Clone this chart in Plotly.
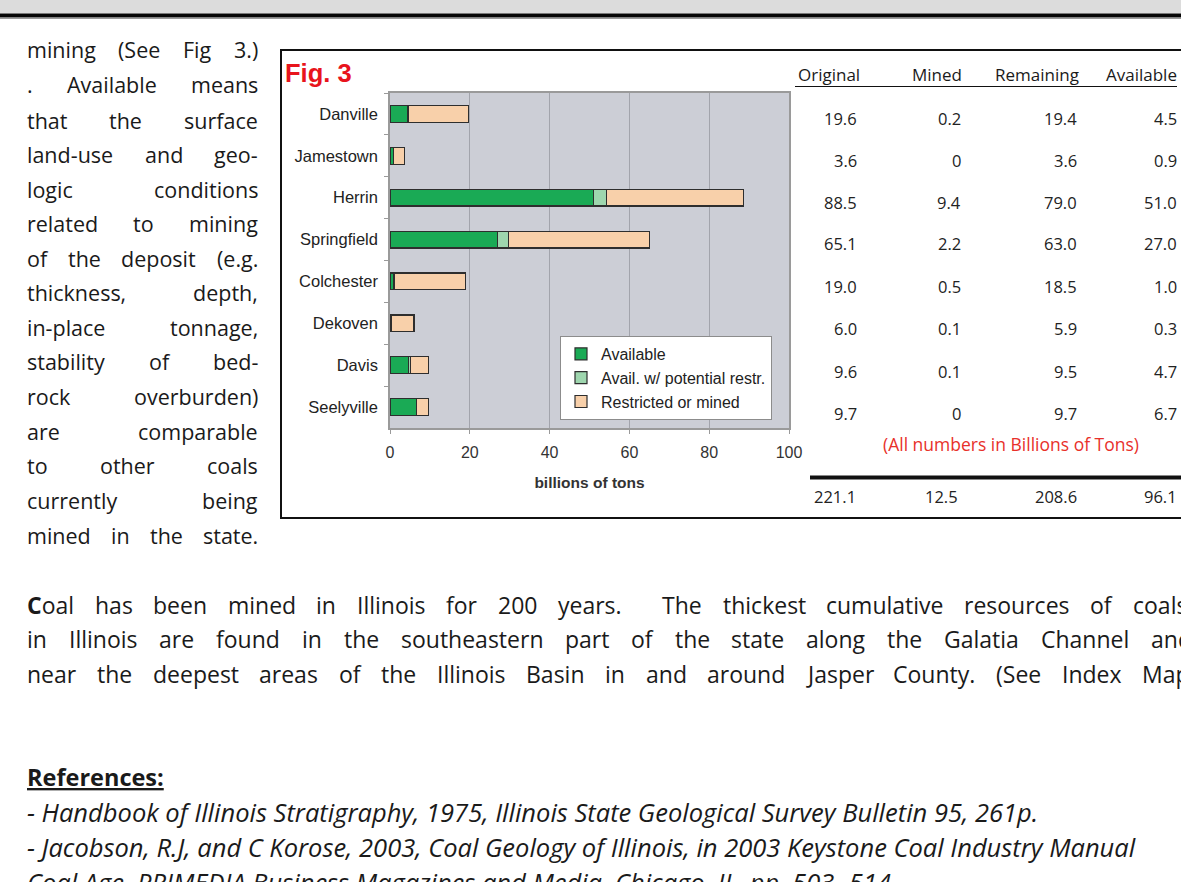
import plotly.graph_objects as go

W, H = 1181, 882

# ---------------- data ----------------
categories = ["Danville", "Jamestown", "Herrin", "Springfield", "Colchester", "Dekoven", "Davis", "Seelyville"]
available = [4.5, 0.9, 51.0, 27.0, 1.0, 0.3, 4.7, 6.7]
potential = [0.0, 0.0, 3.2, 2.7, 0.0, 0.0, 0.5, 0.0]
restricted = [15.1, 2.7, 34.3, 35.4, 18.0, 5.7, 4.4, 3.0]

original = [19.6, 3.6, 88.5, 65.1, 19.0, 6.0, 9.6, 9.7]
mined = [0.2, 0, 9.4, 2.2, 0.5, 0.1, 0.1, 0]
remaining = [19.4, 3.6, 79.0, 63.0, 18.5, 5.9, 9.5, 9.7]
table_available = [4.5, 0.9, 51.0, 27.0, 1.0, 0.3, 4.7, 6.7]
totals = [221.1, 12.5, 208.6, 96.1]
table_headers = ["Original", "Mined", "Remaining", "Available"]

x_ticks = [0, 20, 40, 60, 80, 100]

GREEN = "#1aaa55"
LGREEN = "#9ed6ae"
PEACH = "#f8d0aa"
EDGE = "#2e2e2e"
PLOTBG = "#ccced6"
GRID = "#a2a4ac"


def X(px):
    return px / W


def Y(py):
    return 1 - py / H


fig = go.Figure()
for name, vals, col, grp in [
    ("Available", available, GREEN, "g1"),
    ("Avail. w/ potential restr.", potential, LGREEN, "g2"),
    ("Restricted or mined", restricted, PEACH, "g3"),
]:
    fig.add_trace(go.Bar(
        y=categories, x=vals, orientation="h", name=name, legendgroup=grp,
        marker=dict(color=col, line=dict(color=EDGE, width=1.2)),
        hoverinfo="skip",
    ))

annotations = []
shapes = []


def ann(text, x, y, size, color="#1a1a1a", family="Open Sans", anchor="left", **kw):
    annotations.append(dict(
        text=text, x=X(x), y=Y(y), xref="paper", yref="paper",
        xanchor=anchor, yanchor="middle", showarrow=False, borderpad=0, borderwidth=0,
        font=dict(size=size, color=color, family=family), **kw))


# ---------------- page chrome ----------------
shapes.append(dict(type="rect", xref="paper", yref="paper", x0=-0.01, x1=1.05, y0=Y(13.5), y1=1.01,
                   fillcolor="#dcdcdc", line=dict(width=0), layer="below"))
shapes.append(dict(type="rect", xref="paper", yref="paper", x0=-0.01, x1=1.05, y0=Y(17.5), y1=Y(13.5),
                   fillcolor="#050505", line=dict(width=0)))
shapes.append(dict(type="line", xref="paper", yref="paper", x0=-0.01, x1=1.05, y0=Y(18.5), y1=Y(18.5),
                   line=dict(color="#9a9a9a", width=1)))
# chart frame
shapes.append(dict(type="rect", xref="paper", yref="paper", x0=X(281), x1=X(1200), y0=Y(518), y1=Y(50),
                   line=dict(color="#111111", width=2), fillcolor="rgba(0,0,0,0)"))

# ---------------- Fig label ----------------
ann("<b>Fig. 3</b>", 285, 73, 25.5, color="#e8141c", family="Arial")

# ---------------- table ----------------
def fmt(v):
    return "0" if v == 0 else f"{v:.1f}"


head_right = [860, 962, 1079, 1177]
for h, xr in zip(table_headers, head_right):
    ann(h, xr, 75, 17, anchor="right", color="#1a1a1a")
shapes.append(dict(type="line", xref="paper", yref="paper", x0=X(795), x1=X(1177), y0=Y(86.5), y1=Y(86.5),
                   line=dict(color="#111111", width=1.2)))

row_y = [118, 160, 202, 244, 286, 328, 371, 413]
col_right = [857, 961, 1077, 1177]
for i, ry in enumerate(row_y):
    for col_vals, xr in zip([original, mined, remaining, table_available], col_right):
        ann(fmt(col_vals[i]), xr, ry, 16.5, anchor="right", color="#222222")

ann("(All numbers in Billions of Tons)", 1011, 444, 17.5, color="#e8302a", anchor="center")
shapes.append(dict(type="line", xref="paper", yref="paper", x0=X(810), x1=1.05, y0=Y(477.5), y1=Y(477.5),
                   line=dict(color="#111111", width=4)))
for v, xr in zip(totals, [856, 958, 1077, 1177]):
    ann(f"{v:.1f}", xr, 496, 16.5, anchor="right", color="#222222")

# ---------------- justified text ----------------
OS = {' ': .26, '!': .27, '(': .296, ')': .296, ',': .245, '-': .322, '.': .266, '/': .367, ':': .266,
      ';': .266, 'A': .633, 'B': .648, 'C': .631, 'D': .729, 'E': .556, 'F': .516, 'G': .728, 'H': .754,
      'I': .279, 'J': .267, 'K': .614, 'L': .519, 'M': .907, 'N': .765, 'O': .779, 'P': .602, 'Q': .779,
      'R': .618, 'S': .549, 'T': .553, 'U': .751, 'V': .592, 'W': .923, 'X': .575, 'Y': .562, 'Z': .556,
      'a': .556, 'b': .613, 'c': .476, 'd': .613, 'e': .561, 'f': .339, 'g': .548, 'h': .614, 'i': .253,
      'j': .253, 'k': .525, 'l': .253, 'm': .930, 'n': .614, 'o': .604, 'p': .613, 'q': .613, 'r': .408,
      's': .477, 't': .353, 'u': .614, 'v': .501, 'w': .778, 'x': .524, 'y': .502, 'z': .477}


def tw(s, size):
    return sum(OS.get(c, .572 if c.isdigit() else .55) for c in s) * size


def justify(line, y, left, right, size, bold_first=False):
    parts = line.split(" ")
    words, weights = [], []
    w_gap = 0
    for p in parts:
        if p == "":
            w_gap += 1
            continue
        if words:
            weights.append(1 + w_gap)
        w_gap = 0
        words.append(p)
    total = sum(tw(w, size) for w in words)
    gap = (right - left - total) / sum(weights)
    x = left
    for i, w in enumerate(words):
        txt = w
        if i == 0 and bold_first:
            txt = "<b>" + w[0] + "</b>" + w[1:]
        if i == len(words) - 1:
            ann(txt, right, y, size, anchor="right")
        else:
            ann(txt, x, y, size, anchor="left")
            x += tw(w, size) + gap * weights[i]


left_lines = [
    "mining (See Fig 3.)", ". Available means", "that the surface", "land-use and geo-",
    "logic conditions", "related to mining", "of the deposit (e.g.", "thickness, depth,",
    "in-place tonnage,", "stability of bed-", "rock overburden)", "are comparable",
    "to other coals", "currently being", "mined in the state.",
]
left_y = [50, 85, 120, 154, 189, 223, 258, 292, 327, 361, 396, 431, 465, 500, 535]
for ln, yy in zip(left_lines, left_y):
    justify(ln, yy, 27, 258, 21.5)

para = [
    ("Coal has been mined in Illinois for 200 years.  The thickest cumulative resources of coals", 605, 1187),
    ("in Illinois are found in the southeastern part of the state along the Galatia Channel and", 639, 1192),
    ("near the deepest areas of the Illinois Basin in and around Jasper County. (See Index Map", 674, 1190),
]
for i, (ln, yy, rr) in enumerate(para):
    justify(ln, yy, 27, rr, 23, bold_first=(i == 0))

ann("<b><u>References:</u></b>", 27, 777, 23.5)
ann("<i>- Handbook of Illinois Stratigraphy, 1975, Illinois State Geological Survey Bulletin 95, 261p.</i>",
    27, 812, 25.5)
ann("<i>- Jacobson, R.J, and C Korose, 2003, Coal Geology of Illinois, in 2003 Keystone Coal Industry Manual</i>",
    27, 847, 25.5)
ann("<i>Coal Age, PRIMEDIA Business Magazines and Media, Chicago, IL, pp. 503- 514.</i>", 27, 882, 25.5)

# ---------------- layout ----------------
fig.update_layout(
    width=W, height=H, autosize=False,
    margin=dict(l=0, r=0, t=0, b=0, pad=0),
    paper_bgcolor="white", plot_bgcolor=PLOTBG,
    barmode="stack", bargap=0.6,
    showlegend=True,
    legend=dict(x=X(560), y=Y(336), xanchor="left", yanchor="top", bgcolor="white",
                bordercolor="#8c8c8c", borderwidth=1, font=dict(family="Arial", size=16, color="#222222"),
                traceorder="normal", tracegroupgap=2, itemwidth=30),
    xaxis=dict(domain=[X(390), X(789)], range=[0, 100], tickvals=x_ticks, showgrid=True,
               gridcolor=GRID, gridwidth=1, zeroline=False, showline=True, linecolor="#9a9a9a",
               linewidth=1.5, mirror=True, ticks="outside", ticklen=4, tickcolor="#9a9a9a",
               ticklabelstandoff=5, automargin=False,
               tickfont=dict(family="Arial", size=16, color="#333333"),
               title=dict(text="<b>billions of tons</b>", font=dict(family="Arial", size=15.5, color="#333333"),
                          standoff=17)),
    yaxis=dict(domain=[Y(428), Y(93)], type="category", categoryorder="array", categoryarray=categories,
               autorange="reversed", showgrid=False, zeroline=False, showline=True, linecolor="#9a9a9a",
               linewidth=1.5, mirror=True, ticks="outside", ticklen=4, tickcolor="#9a9a9a",
               tickson="boundaries", ticklabelstandoff=7, automargin=False,
               tickfont=dict(family="Arial", size=16.5, color="#222222")),
    annotations=annotations, shapes=shapes,
)

fig.write_html(
    "out.html", config={"displayModeBar": False, "responsive": False},
    post_script=("document.documentElement.style.overflow='hidden';"
                 "document.body.style.margin='0';document.body.style.overflow='hidden';"
                 "var gd=document.getElementById('{plot_id}');"
                 "Plotly.relayout(gd,{width:1181,height:882});"),
)
